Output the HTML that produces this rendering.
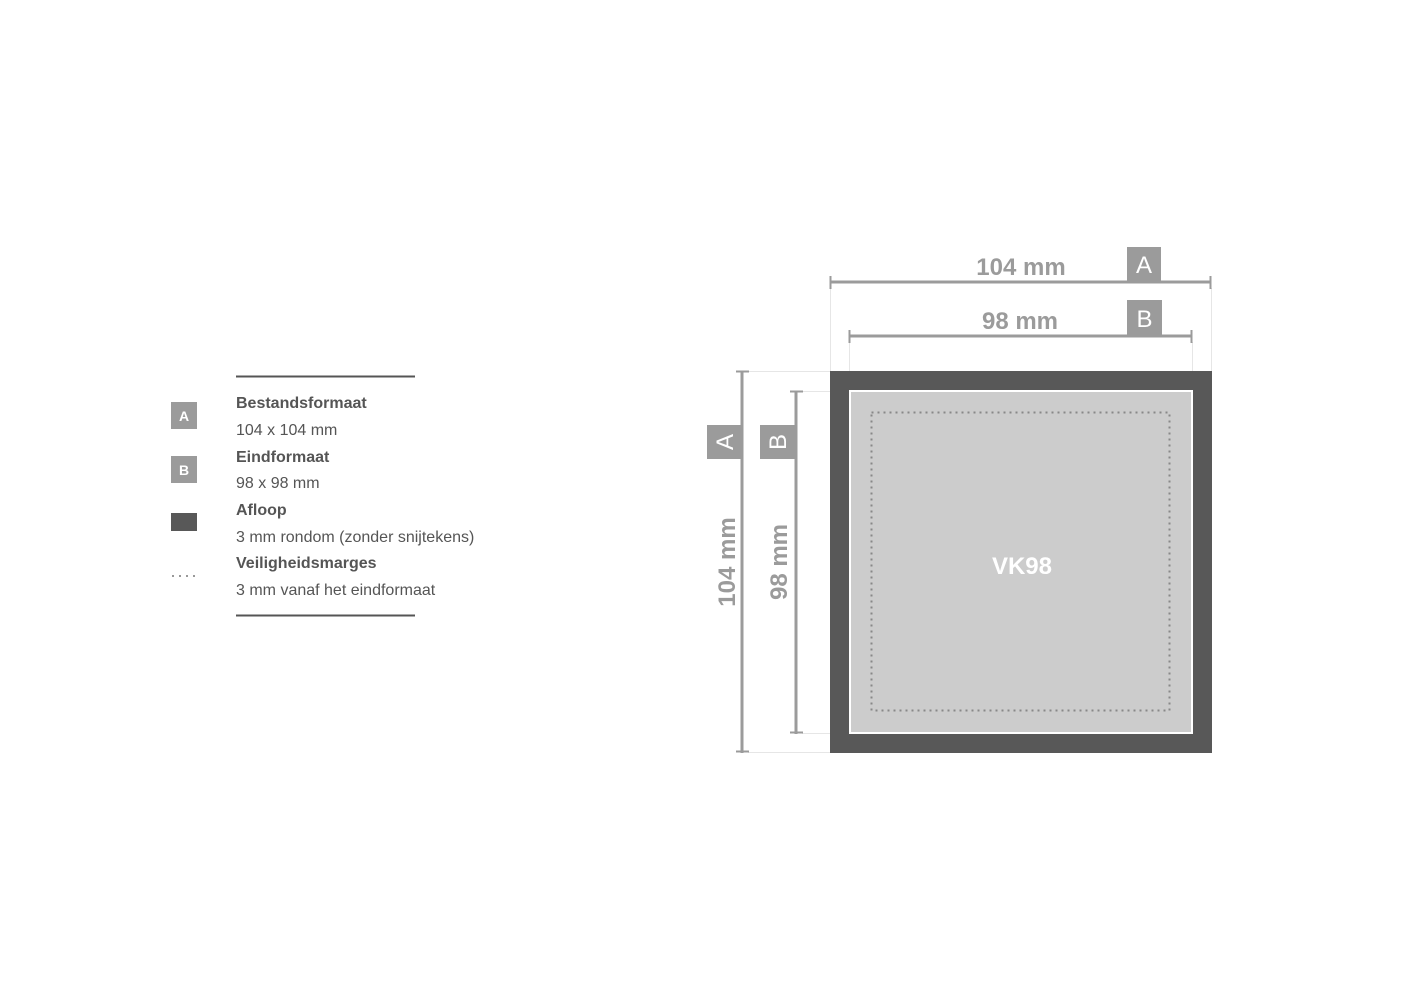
<!DOCTYPE html>
<html><head><meta charset="utf-8"><style>
html,body{margin:0;padding:0;background:#fff;}
body{width:1403px;height:992px;overflow:hidden;}
svg text{font-family:"Liberation Sans",Arial,sans-serif;}
</style></head><body>
<svg width="1403" height="992" viewBox="0 0 1403 992" xmlns="http://www.w3.org/2000/svg">
<!-- legend -->
<line x1="236" y1="376.5" x2="415" y2="376.5" stroke="#555" stroke-width="2"/>
<line x1="236" y1="615.5" x2="415" y2="615.5" stroke="#555" stroke-width="2"/>
<rect x="171" y="402" width="26" height="27" fill="#9b9b9b"/>
<text x="184" y="421" fill="#fff" font-size="14" font-weight="bold" text-anchor="middle">A</text>
<rect x="171" y="456" width="26" height="27" fill="#9b9b9b"/>
<text x="184" y="475" fill="#fff" font-size="14" font-weight="bold" text-anchor="middle">B</text>
<rect x="171" y="513" width="26" height="18" fill="#585858"/>
<line x1="172" y1="576" x2="198" y2="576" stroke="#999" stroke-width="2" stroke-dasharray="2,5"/>
<g font-size="16" fill="#555">
<text x="236" y="408" font-weight="bold">Bestandsformaat</text>
<text x="236" y="435">104 x 104 mm</text>
<text x="236" y="462" font-weight="bold">Eindformaat</text>
<text x="236" y="488">98 x 98 mm</text>
<text x="236" y="515" font-weight="bold">Afloop</text>
<text x="236" y="542">3 mm rondom (zonder snijtekens)</text>
<text x="236" y="568" font-weight="bold">Veiligheidsmarges</text>
<text x="236" y="595">3 mm vanaf het eindformaat</text>
</g>
<!-- extension lines -->
<g stroke="#e6e6e6" stroke-width="1">
<line x1="830.5" y1="288" x2="830.5" y2="371"/>
<line x1="1211.5" y1="288" x2="1211.5" y2="371"/>
<line x1="849.5" y1="342" x2="849.5" y2="391"/>
<line x1="1192.5" y1="342" x2="1192.5" y2="391"/>
<line x1="748" y1="371.5" x2="830" y2="371.5"/>
<line x1="748" y1="752.5" x2="830" y2="752.5"/>
<line x1="802" y1="391.5" x2="849" y2="391.5"/>
<line x1="802" y1="733.5" x2="849" y2="733.5"/>
</g>
<!-- top dims -->
<g stroke="#9b9b9b" stroke-width="3">
<line x1="830" y1="282" x2="1211" y2="282"/>
<line x1="830.5" y1="276" x2="830.5" y2="289" stroke-width="2"/>
<line x1="1210.5" y1="276" x2="1210.5" y2="289" stroke-width="2"/>
<line x1="849" y1="336" x2="1192" y2="336"/>
<line x1="849.5" y1="330" x2="849.5" y2="343" stroke-width="2"/>
<line x1="1191.5" y1="330" x2="1191.5" y2="343" stroke-width="2"/>
<line x1="742" y1="371" x2="742" y2="753"/>
<line x1="736" y1="371.5" x2="749" y2="371.5" stroke-width="2"/>
<line x1="736" y1="751.5" x2="749" y2="751.5" stroke-width="2"/>
<line x1="796" y1="391" x2="796" y2="734"/>
<line x1="790" y1="391.5" x2="803" y2="391.5" stroke-width="2"/>
<line x1="790" y1="732.5" x2="803" y2="732.5" stroke-width="2"/>
</g>
<rect x="1127" y="247" width="34" height="35" fill="#9b9b9b"/>
<text x="1144" y="273" fill="#fff" font-size="24" text-anchor="middle">A</text>
<rect x="1127" y="300" width="35" height="36" fill="#9b9b9b"/>
<text x="1144.5" y="327" fill="#fff" font-size="24" text-anchor="middle">B</text>
<text x="1021" y="275" fill="#9b9b9b" font-size="24" font-weight="bold" text-anchor="middle">104 mm</text>
<text x="1020" y="329" fill="#9b9b9b" font-size="24" font-weight="bold" text-anchor="middle">98 mm</text>
<rect x="707" y="425" width="35" height="34" fill="#9b9b9b"/>
<text transform="translate(733,442) rotate(-90)" fill="#fff" font-size="24" text-anchor="middle">A</text>
<rect x="760" y="425" width="35" height="34" fill="#9b9b9b"/>
<text transform="translate(786,442) rotate(-90)" fill="#fff" font-size="24" text-anchor="middle">B</text>
<text transform="translate(735,562) rotate(-90)" fill="#9b9b9b" font-size="24" font-weight="bold" text-anchor="middle">104 mm</text>
<text transform="translate(787,562) rotate(-90)" fill="#9b9b9b" font-size="24" font-weight="bold" text-anchor="middle">98 mm</text>
<!-- artwork -->
<rect x="830" y="371" width="382" height="382" fill="#585858"/>
<rect x="850" y="391" width="342" height="342" fill="#cccccc" stroke="#fff" stroke-width="2"/>
<rect x="871.5" y="412.5" width="298" height="298" fill="none" stroke="#888" stroke-width="2" stroke-dasharray="2,4"/>
<text x="1022" y="574" fill="#fff" font-size="24" font-weight="bold" text-anchor="middle">VK98</text>
</svg>
</body></html>
